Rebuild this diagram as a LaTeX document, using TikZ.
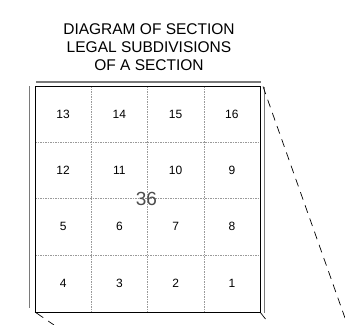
\documentclass[tikz,border=0pt]{standalone}
\usepackage{fontspec}
\setmainfont{Liberation Sans}
\usepackage{tikz}
\usetikzlibrary{positioning,calc}
\definecolor{FrameGray}{HTML}{7A7A7A}
\definecolor{GridGray}{HTML}{9A9A9A}

\begin{document}
\begin{tikzpicture}[
        x=1pt, y=-1pt,
        title/.style={
            align=center,
            font=\fontsize{15.5}{18}\selectfont,
            inner sep=0pt
        },
        cellnum/.style={
            font=\fontsize{12}{14}\selectfont,
            inner sep=0pt
        },
        secnum/.style={
            font=\fontsize{19}{20}\selectfont,
            text=black!70,
            inner sep=0pt
        },
        border/.style={line width=0.9pt, draw=black},
        offset/.style={line width=1.3pt, draw=FrameGray},
        gridline/.style={line width=0.45pt, draw=GridGray, dash pattern=on 1.5pt off 1pt},
        tieline/.style={line width=0.7pt, draw=black, dash pattern=on 8pt off 6pt}
    ]
        \useasboundingbox (0,0) rectangle (345,324);

        % section corners
        \coordinate (nw) at (35,86);
        \coordinate (ne) at (260,86);
        \coordinate (sw) at (35,312);
        \coordinate (se) at (260,312);

        \node[title] (head) at (149,47)
            {DIAGRAM OF SECTION\\LEGAL SUBDIVISIONS\\OF A SECTION};

        % quarter-quarter lines
        \draw[gridline] (91.25,86) -- (91.25,312);
        \draw[gridline] (147.5,86) -- (147.5,312);
        \draw[gridline] (203.75,86) -- (203.75,312);
        \draw[gridline] (35,142.25) -- (260,142.25);
        \draw[gridline] (35,198.5) -- (260,198.5);
        \draw[gridline] (35,254.75) -- (260,254.75);

        % section outline
        \draw[border] (nw) -- (ne) -- (se) -- (sw) -- cycle;
        \draw[offset] (36,82) -- (261,82);
        \draw[offset] (29.5,86) -- (29.5,308);
        \draw[offset] (264.5,87) -- (264.5,313);

        \node[cellnum] (c13) at (63.1,114.1) {13};
        \node[cellnum] (c14) at (119.4,114.1) {14};
        \node[cellnum] (c15) at (175.6,114.1) {15};
        \node[cellnum] (c16) at (231.9,114.1) {16};
        \node[cellnum] (c12) at (63.1,170.4) {12};
        \node[cellnum] (c11) at (119.4,170.4) {11};
        \node[cellnum] (c10) at (175.6,170.4) {10};
        \node[cellnum] (c9) at (231.9,170.4) {9};
        \node[cellnum] (c5) at (63.1,226.6) {5};
        \node[cellnum] (c6) at (119.4,226.6) {6};
        \node[cellnum] (c7) at (175.6,226.6) {7};
        \node[cellnum] (c8) at (231.9,226.6) {8};
        \node[cellnum] (c4) at (63.1,282.9) {4};
        \node[cellnum] (c3) at (119.4,282.9) {3};
        \node[cellnum] (c2) at (175.6,282.9) {2};
        \node[cellnum] (c1) at (231.9,282.9) {1};

        \node[secnum] (sec) at (146.5,198.5) {36};

        % ties to the township
        \coordinate (tiene) at (345,318);
        \coordinate (tiesw) at (54,325);
        \coordinate (tiese) at (265.5,319);
        \draw[tieline] ($(ne)+(3,0.5)$) -- (tiene);
        \draw[tieline, dash pattern=on 10pt off 6pt] (sw) -- (tiesw);
        \draw[line width=0.7pt] (se) -- (tiese);
    \end{tikzpicture}
\end{document}
